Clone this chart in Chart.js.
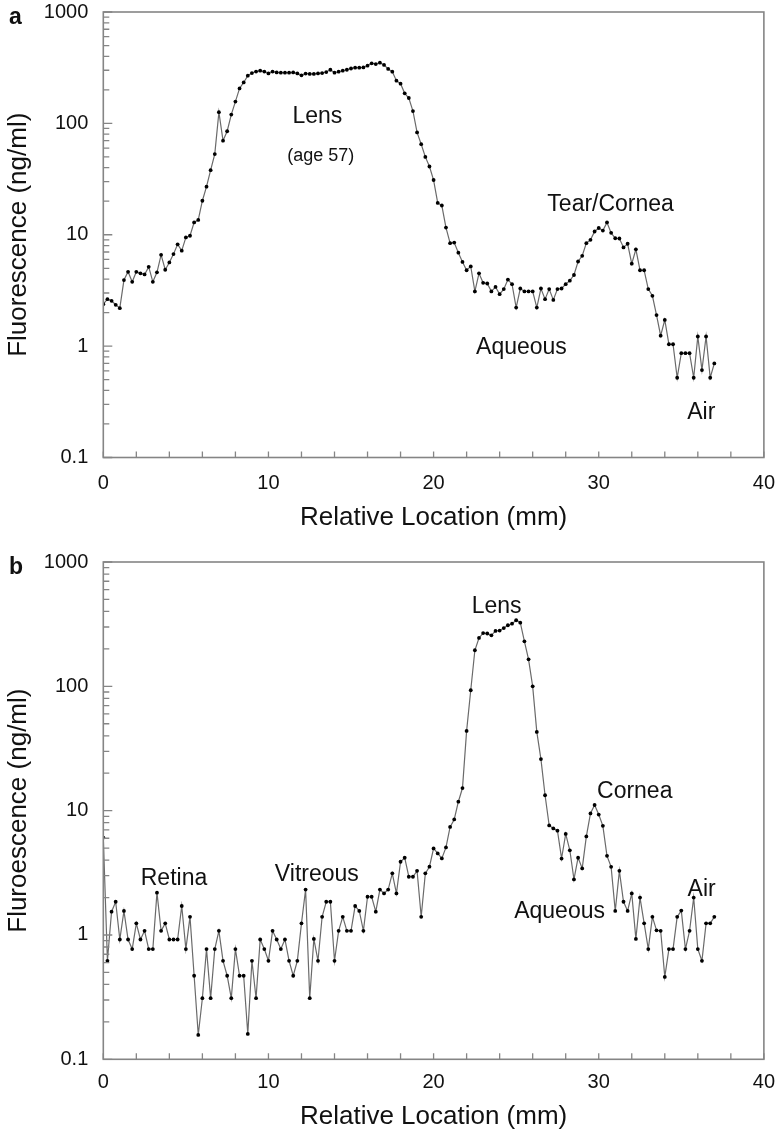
<!DOCTYPE html>
<html><head><meta charset="utf-8">
<script src="https://cdn.jsdelivr.net/npm/chart.js@4.4.1/dist/chart.umd.min.js"></script>
<style>
html,body{margin:0;padding:0;background:#fff;}
#wrap{position:relative;width:782px;height:1135px;overflow:hidden;background:#fff;}
.box{position:absolute;left:0;}
.box canvas{display:block;}
</style></head><body>
<div id="wrap">
<div class="box" id="boxA"><canvas id="ca"></canvas></div>
<div class="box" id="boxB"><canvas id="cb"></canvas></div>
</div>
<script>
// ---- data ----
const locations = [0,0.25,0.5,0.75,1,1.25,1.5,1.75,2,2.25,2.5,2.75,3,3.25,3.5,3.75,4,4.25,4.5,4.75,5,5.25,5.5,5.75,6,6.25,6.5,6.75,7,7.25,7.5,7.75,8,8.25,8.5,8.75,9,9.25,9.5,9.75,10,10.25,10.5,10.75,11,11.25,11.5,11.75,12,12.25,12.5,12.75,13,13.25,13.5,13.75,14,14.25,14.5,14.75,15,15.25,15.5,15.75,16,16.25,16.5,16.75,17,17.25,17.5,17.75,18,18.25,18.5,18.75,19,19.25,19.5,19.75,20,20.25,20.5,20.75,21,21.25,21.5,21.75,22,22.25,22.5,22.75,23,23.25,23.5,23.75,24,24.25,24.5,24.75,25,25.25,25.5,25.75,26,26.25,26.5,26.75,27,27.25,27.5,27.75,28,28.25,28.5,28.75,29,29.25,29.5,29.75,30,30.25,30.5,30.75,31,31.25,31.5,31.75,32,32.25,32.5,32.75,33,33.25,33.5,33.75,34,34.25,34.5,34.75,35,35.25,35.5,35.75,36,36.25,36.5,36.75,37];

const fluorescenceA = [
2.38,2.64,2.55,2.35,2.19,3.92,4.65,3.78,4.65,4.5,
4.4,5.15,3.78,4.6,6.6,4.85,5.64,6.7,8.2,7.2,
9.46,9.8,12.9,13.6,20.2,27,38,53,126,70,
85,120,157,206,233,268,283,292,297,292,
281,292,287,285,285,285,287,281,270,280,
278,278,281,283,289,303,285,291,297,303,
311,316,316,318,330,346,341,351,335,308,
291,242,227,186,169,129,83,65,50,41,
31,19.3,18.3,11.6,8.4,8.5,6.9,5.7,4.8,5.2,
3.1,4.5,3.7,3.65,3.1,3.4,2.93,3.25,3.96,3.6,
2.22,3.29,3.1,3.1,3.1,2.22,3.29,2.64,3.25,2.6,
3.25,3.29,3.6,3.87,4.35,5.75,6.47,8.4,9.0,10.7,
11.5,10.9,12.9,10.4,9.3,9.25,7.7,8.3,5.5,7.4,
4.8,4.8,3.25,2.83,1.90,1.24,1.72,1.04,1.04,0.52,
0.865,0.865,0.865,0.52,1.22,0.61,1.22,0.52,0.70];

const fluorescenceB = [
6.07,0.62,1.54,1.85,0.92,1.56,0.92,0.77,1.24,0.92,
1.08,0.77,0.77,2.19,1.08,1.24,0.92,0.92,0.92,1.71,
0.77,1.40,0.47,0.157,0.31,0.77,0.31,0.77,1.08,0.62,
0.47,0.31,0.77,0.47,0.47,0.16,0.62,0.31,0.92,0.77,
0.62,1.08,0.92,0.77,0.92,0.62,0.47,0.62,1.24,2.32,
0.31,0.93,0.62,1.40,1.85,1.85,0.62,1.08,1.40,1.08,
1.08,1.71,1.56,1.08,2.03,2.03,1.54,2.32,2.16,2.32,
3.13,2.16,3.88,4.18,2.94,2.94,3.28,1.40,3.13,3.54,
4.97,4.53,4.13,5.06,7.4,8.5,11.8,15.2,43.8,93,
195,245,268,266,257,279,281,294,310,319,
340,325,230,165,100,43,26,13.3,7.6,7.2,
6.9,4.12,6.5,4.8,2.8,4.18,3.43,6.2,9.5,11.1,
9.3,7.55,4.33,3.53,1.56,3.28,1.85,1.56,2.16,0.93,
2.0,1.24,0.77,1.40,1.09,1.08,0.46,0.77,0.77,1.40,
1.57,0.77,1.08,2.0,0.77,0.62,1.24,1.24,1.40];

const xTickValues = [0,10,20,30,40];
const xTickLabels = ['0','10','20','30','40'];
const xMinorTickValues = [2,4,6,8,12,14,16,18,22,24,26,28,32,34,36,38];
const yTickValues = [0.1,1,10,100,1000];
const yTickLabels = ['0.1','1','10','100','1000'];
const yMinorMultipliers = [2,3,4,5,6,7,8,9];

const xTitle = 'Relative Location (mm)';
const yTitleA = 'Fluorescence (ng/ml)';
const yTitleB = 'Fluroescence (ng/ml)';

const notesA = [
  {text:'Lens', x:12.96, y:115, size:23},
  {text:'(age 57)', x:13.17, y:51, size:18},
  {text:'Tear/Cornea', x:30.72, y:18.6, size:23},
  {text:'Aqueous', x:25.32, y:0.964, size:23},
  {text:'Air', x:36.21, y:0.251, size:23}
];
const notesB = [
  {text:'Retina', x:4.28, y:2.86, size:23},
  {text:'Vitreous', x:12.93, y:3.08, size:23},
  {text:'Lens', x:23.82, y:441, size:23},
  {text:'Cornea', x:32.18, y:14.3, size:23},
  {text:'Aqueous', x:27.63, y:1.53, size:23},
  {text:'Air', x:36.23, y:2.30, size:23}
];

// ---- rendering ----
const FONT = "'Liberation Sans', Arial, Helvetica, sans-serif";
Chart.defaults.font.family = FONT;
const AXIS_COLOR = '#858585';

const decorPlugin = {
  id:'decor',
  afterDraw(chart, args, opts){
    const ctx = chart.ctx, a = chart.chartArea;
    const xs = chart.scales.x, ys = chart.scales.y;
    ctx.save();
    ctx.strokeStyle = AXIS_COLOR;
    ctx.lineWidth = 1.6;
    ctx.strokeRect(a.left, a.top, a.right - a.left, a.bottom - a.top);
    ctx.lineWidth = 1.3;
    ctx.beginPath();
    xTickValues.concat(xMinorTickValues).forEach(v=>{
      const px = xs.getPixelForValue(v);
      ctx.moveTo(px, a.bottom); ctx.lineTo(px, a.bottom - 6);
    });
    yTickValues.forEach((v, i)=>{
      const py = ys.getPixelForValue(v);
      ctx.moveTo(a.left, py); ctx.lineTo(a.left + 9, py);
      if (i < yTickValues.length - 1) {
        yMinorMultipliers.forEach(m=>{
          const pm = ys.getPixelForValue(v * m);
          ctx.moveTo(a.left, pm); ctx.lineTo(a.left + 6, pm);
        });
      }
    });
    ctx.stroke();
    ctx.fillStyle = '#111';
    ctx.textAlign = 'center';
    ctx.textBaseline = 'middle';
    opts.notes.forEach(n=>{
      ctx.font = n.size + 'px ' + FONT;
      ctx.fillText(n.text, xs.getPixelForValue(n.x), ys.getPixelForValue(n.y));
    });
    ctx.font = 'bold 23px ' + FONT;
    ctx.textAlign = 'left';
    ctx.fillText(opts.panel, 9, a.top + 5.5);
    ctx.restore();
  }
};

function chartConfig(values, yTitle, notes, panel, d){
  return {
    type:'line',
    data:{datasets:[{
      data: locations.map((x,i)=>({x:x, y:values[i]})),
      borderColor:'#6a6a6a', borderWidth:1.2,
      pointRadius:1.9, pointBackgroundColor:'#000', pointBorderWidth:0,
      pointHoverRadius:0, tension:0, fill:false
    }]},
    options:{
      responsive:false, maintainAspectRatio:false, animation:false, events:[],
      layout:{padding:0},
      plugins:{legend:{display:false}, tooltip:{enabled:false},
        decor:{notes:notes, panel:panel}},
      scales:{
        x:{
          type:'linear', min:0, max:40,
          afterBuildTicks:s=>{ s.ticks = xTickValues.map(v=>({value:v})); },
          ticks:{callback:(v,i)=>xTickLabels[i], autoSkip:false, maxRotation:0,
                 font:{size:20}, color:'#111', padding:d.xPad},
          grid:{display:false, drawTicks:false},
          border:{display:false},
          title:{display:true, text:xTitle, font:{size:26}, color:'#111',
                 padding:{top:0, bottom:d.xTitlePad}},
          afterFit:s=>{ s.height = d.xH; }
        },
        y:{
          type:'logarithmic', min:0.1, max:1000,
          afterBuildTicks:s=>{ s.ticks = yTickValues.map(v=>({value:v, major:true})); },
          ticks:{callback:(v,i)=>yTickLabels[i], autoSkip:false,
                 font:{size:20}, color:'#111', padding:15},
          grid:{display:false, drawTicks:false},
          border:{display:false},
          title:{display:true, text:yTitle, font:{size:26}, color:'#111',
                 padding:{top:3, bottom:0}},
          afterFit:s=>{ s.width = 103.3; }
        }
      }
    },
    plugins:[decorPlugin]
  };
}

// place the chart so that its plot area lands on the target rectangle of the page
function place(canvasId, boxId, cfgFn, target){
  const box = document.getElementById(boxId);
  const cv = document.getElementById(canvasId);
  const setSize = (w, h, l, t)=>{
    box.style.left = l + 'px'; box.style.top = t + 'px';
    box.style.width = w + 'px'; box.style.height = h + 'px';
    cv.width = w; cv.height = h;
    cv.style.width = w + 'px'; cv.style.height = h + 'px';
  };
  const W0 = 800, H0 = 600;
  setSize(W0, H0, 0, 0);
  let ch = new Chart(cv, cfgFn());
  const ca = ch.chartArea;
  const ca0 = {left:ca.left, top:ca.top, right:ca.right, bottom:ca.bottom};
  ch.destroy();
  const W = Math.round(W0 + (target.right - target.left) - (ca0.right - ca0.left));
  const H = Math.round(H0 + (target.bottom - target.top) - (ca0.bottom - ca0.top));
  setSize(W, H, target.left - ca0.left, target.top - ca0.top);
  return new Chart(cv, cfgFn());
}

place('ca', 'boxA',
  ()=>chartConfig(fluorescenceA, yTitleA, notesA, 'a', {xH:83.5, xPad:14, xTitlePad:8}),
  {left:103.3, top:11.5, right:764.3, bottom:456.5});
place('cb', 'boxB',
  ()=>chartConfig(fluorescenceB, yTitleB, notesB, 'b', {xH:75.7, xPad:11, xTitlePad:3}),
  {left:103.3, top:561.7, right:764.3, bottom:1059.3});
</script>
</body></html>
